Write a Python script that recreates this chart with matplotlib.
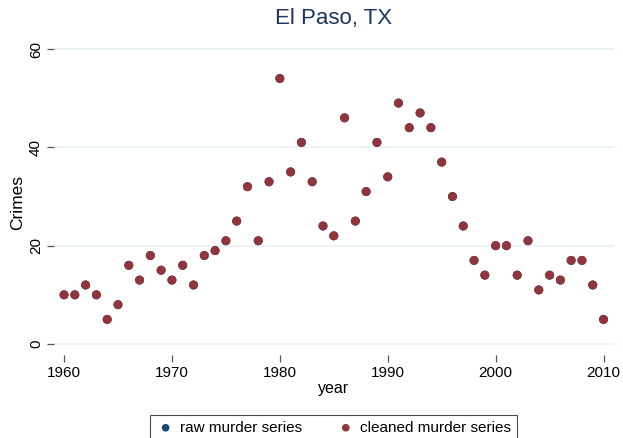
import matplotlib.pyplot as plt

years = list(range(1960, 2011))
raw_murders = [10, 10, 12, 10, 5, 8, 16, 13, 18, 15,
               13, 16, 12, 18, 19, 21, 25, 32, 21, 33,
               54, 35, 41, 33, 24, 22, 46, 25, 31, 41,
               34, 49, 44, 47, 44, 37, 30, 24, 17, 14,
               20, 20, 14, 21, 11, 14, 13, 17, 17, 12,
               5]
cleaned_murders = list(raw_murders)

x_ticks = [1960, 1970, 1980, 1990, 2000, 2010]
y_ticks = [0, 20, 40, 60]

NAVY = "#1a476f"
MAROON = "#90353b"
GRID = "#eaf2f3"

plt.rcParams["font.family"] = ["Liberation Sans", "DejaVu Sans"]


def main():
    fig = plt.figure(figsize=(6.23, 4.38), dpi=100)
    ax = fig.add_axes([54 / 623, (438 - 355) / 438, 560 / 623, 317 / 438])

    ax.scatter(years, raw_murders, s=42, color=NAVY, edgecolor="none",
               label="raw murder series", zorder=3)
    ax.scatter(years, cleaned_murders, s=42, color=MAROON, edgecolor="none",
               label="cleaned murder series", zorder=4)

    ax.set_xlim(1959.07, 2010.97)
    ax.set_ylim(-2.24, 62.24)
    ax.set_xticks(x_ticks)
    ax.set_yticks(y_ticks)
    ax.set_yticklabels([str(v) for v in y_ticks], rotation=90, va="center")

    for s in ax.spines.values():
        s.set_visible(False)
    ax.grid(axis="y", color=GRID, linewidth=1.3)
    ax.set_axisbelow(True)
    ax.tick_params(axis="both", color="#555555", length=5, width=0.9,
                   labelsize=11, pad=3)

    ax.set_xlabel("year", fontsize=11.5, labelpad=1)
    ax.set_ylabel("Crimes", fontsize=12.5)
    ax.yaxis.set_label_coords(-(54 - 25) / 560, (355 - 202) / 317)
    ax.set_title("El Paso, TX", fontsize=16, color="#1e3461", pad=10)

    leg = fig.legend(loc="upper center", bbox_to_anchor=(333.5 / 623, (438 - 407) / 438),
                     ncol=2, fontsize=11, frameon=True, fancybox=False,
                     edgecolor="#222222", handletextpad=0.3, columnspacing=2.2,
                     markerscale=0.85, borderpad=0.4, handlelength=1.3)
    leg.get_frame().set_linewidth(0.8)

    fig.savefig("out.png", dpi=100)


if __name__ == "__main__":
    main()
